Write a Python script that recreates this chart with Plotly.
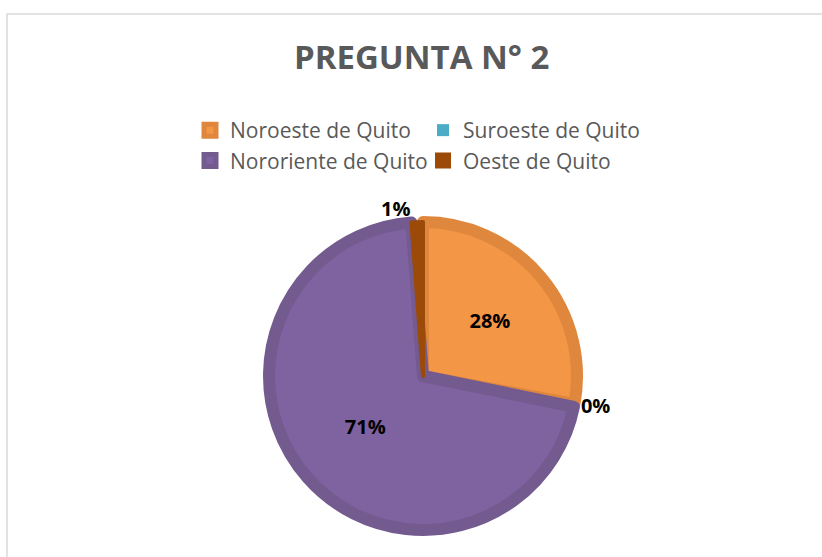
import plotly.graph_objects as go

categories = ["Noroeste de Quito", "Suroeste de Quito", "Nororiente de Quito", "Oeste de Quito"]
values = [27.9, 0.3, 70.6, 1.2]
fill_colors = ["#F39646", "#4AACC5", "#7F62A0", "#9C4A07"]
border_colors = ["#E0873E", "#4AACC5", "#735A8F", "#9C4A07"]
border_widths = [12, 0, 12, 4]
text_pos = ["inside", "outside", "inside", "outside"]

L, R, T, B = 187, 163, 222, 27
W, H = 822, 557
pw, ph = W - L - R, H - T - B

fig = go.Figure(go.Pie(
    labels=categories,
    values=values,
    sort=False,
    direction="clockwise",
    rotation=0,
    marker=dict(colors=fill_colors, line=dict(color=border_colors, width=border_widths)),
    texttemplate="%{percent:.0%}",
    textposition=text_pos,
    insidetextorientation="horizontal",
    textfont=dict(family="Open Sans", size=20, color="#000000", weight="bold"),
    domain=dict(x=[0, 1], y=[0, 1]),
    hoverinfo="label+percent",
))

fig.update_layout(
    width=W, height=H,
    paper_bgcolor="white",
    plot_bgcolor="white",
    margin=dict(l=L, r=R, t=T, b=B, autoexpand=False),
    title=dict(text="<b>PREGUNTA N° 2</b>", x=0.513, xanchor="center", y=0.897, yanchor="middle",
               font=dict(family="Open Sans", size=33, color="#595959")),
    legend=dict(orientation="h", xref="container", yref="container", x=190 / W, xanchor="left",
                y=1 - 110 / H, yanchor="top", entrywidth=188,
                bgcolor="rgba(0,0,0,0)",
                font=dict(family="Open Sans", size=21, color="#595959"),
                itemwidth=30, traceorder="normal"),
    showlegend=True,
    shapes=[dict(type="rect", xref="paper", yref="paper",
                 x0=(7 - L) / pw, x1=1.5, y0=-0.3, y1=(H - B - 14) / ph,
                 line=dict(color="#D9D9D9", width=1.5), fillcolor="rgba(0,0,0,0)", layer="below")],
)

fig.write_html("out.html", config={"displayModeBar": False},
               post_script="document.body.style.margin='0px';")
